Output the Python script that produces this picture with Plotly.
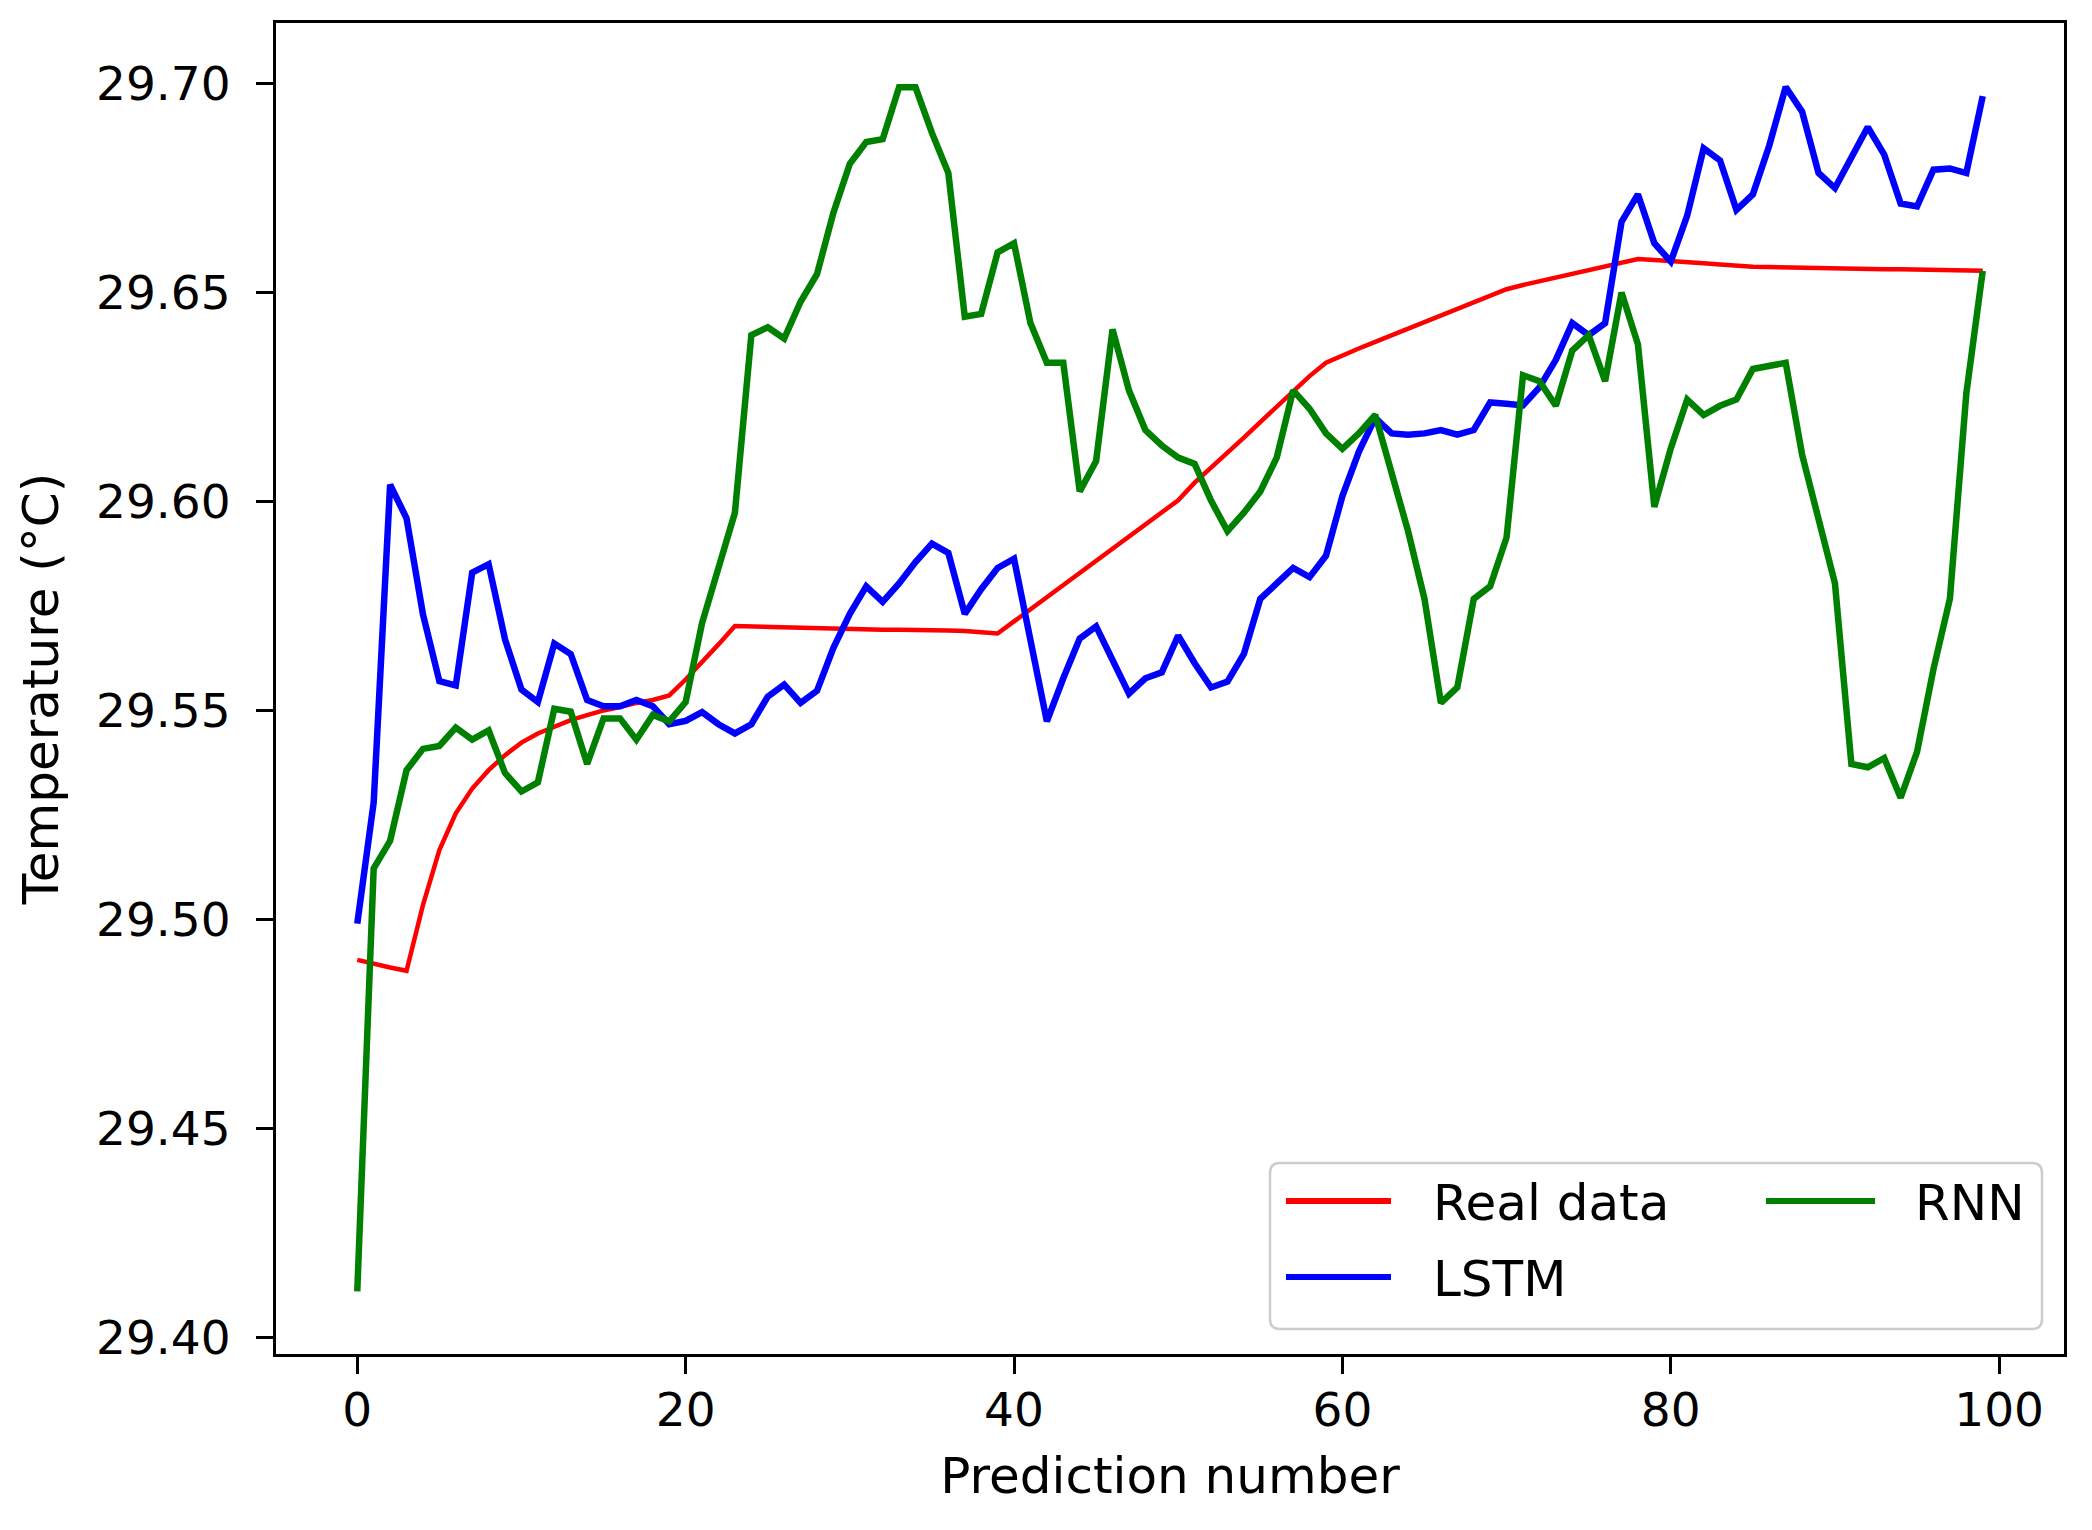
import plotly.graph_objects as go

# ---------------- data ----------------
prediction_number = list(range(100))

real_data = [
    29.4903, 29.4893, 29.4885, 29.4877, 29.5034, 29.5166, 29.5254, 29.5313, 29.5357, 29.5393,
    29.5423, 29.5445, 29.5462, 29.5477, 29.5489, 29.5500, 29.5508, 29.5518, 29.5525, 29.5536,
    29.5574, 29.5615, 29.5658, 29.5702, 29.5701, 29.5700, 29.5698, 29.5696, 29.5695, 29.5694,
    29.5693, 29.5693, 29.5693, 29.5693, 29.5693, 29.5692, 29.5691, 29.5690, 29.5688, 29.5684,
    29.5713, 29.5742, 29.5771, 29.5800, 29.5829, 29.5858, 29.5887, 29.5916, 29.5945, 29.5974,
    29.6003, 29.6045, 29.6080, 29.6117, 29.6153, 29.6190, 29.6227, 29.6263, 29.6300, 29.6332,
    29.6350, 29.6366, 29.6382, 29.6398, 29.6414, 29.6430, 29.6445, 29.6460, 29.6476, 29.6492,
    29.6508, 29.6518, 29.6527, 29.6536, 29.6545, 29.6554, 29.6563, 29.6572, 29.6580, 29.6578,
    29.6576, 29.6573, 29.6570, 29.6567, 29.6564, 29.6562, 29.6561, 29.6560, 29.6560, 29.6559,
    29.6558, 29.6558, 29.6557, 29.6556, 29.6556, 29.6555, 29.6554, 29.6554, 29.6553, 29.6552,
]

lstm = [
    29.4990, 29.5280, 29.6040, 29.5960, 29.5730, 29.5570, 29.5560, 29.5830, 29.5850, 29.5670,
    29.5550, 29.5520, 29.5660, 29.5635, 29.5525, 29.5510, 29.5510, 29.5525, 29.5510, 29.5467,
    29.5475, 29.5496, 29.5467, 29.5445, 29.5467, 29.5533, 29.5562, 29.5518, 29.5547, 29.5650,
    29.5731, 29.5797, 29.5760, 29.5804, 29.5855, 29.5899, 29.5877, 29.5731, 29.5790, 29.5841,
    29.5863, 29.5660, 29.5474, 29.5577, 29.5672, 29.5701, 29.5620, 29.5540, 29.5577, 29.5591,
    29.5679, 29.5613, 29.5555, 29.5569, 29.5635, 29.5767, 29.5804, 29.5841, 29.5819, 29.5870,
    29.6013, 29.6119, 29.6200, 29.6163, 29.6160, 29.6163, 29.6171, 29.6160, 29.6171, 29.6237,
    29.6234, 29.6230, 29.6273, 29.6339, 29.6427, 29.6398, 29.6427, 29.6669, 29.6735, 29.6618,
    29.6574, 29.6684, 29.6845, 29.6816, 29.6698, 29.6735, 29.6852, 29.6992, 29.6933, 29.6786,
    29.6750, 29.6823, 29.6896, 29.6830, 29.6713, 29.6706, 29.6794, 29.6797, 29.6786, 29.6970,
]

rnn = [
    29.4110, 29.5122, 29.5188, 29.5357, 29.5408, 29.5415, 29.5459, 29.5430, 29.5452, 29.5350,
    29.5306, 29.5328, 29.5504, 29.5497, 29.5372, 29.5481, 29.5481, 29.5430, 29.5489, 29.5474,
    29.5520, 29.5709, 29.5841, 29.5973, 29.6398, 29.6417, 29.6390, 29.6478, 29.6544, 29.6691,
    29.6808, 29.6860, 29.6867, 29.6991, 29.6991, 29.6882, 29.6786, 29.6442, 29.6449, 29.6596,
    29.6618, 29.6427, 29.6332, 29.6332, 29.6024, 29.6097, 29.6412, 29.6266, 29.6171, 29.6134,
    29.6105, 29.6090, 29.6002, 29.5929, 29.5973, 29.6024, 29.6105, 29.6266, 29.6222, 29.6163,
    29.6126, 29.6163, 29.6207, 29.6061, 29.5929, 29.5767, 29.5518, 29.5555, 29.5767, 29.5797,
    29.5914, 29.6302, 29.6288, 29.6229, 29.6361, 29.6398, 29.6288, 29.6500, 29.6376, 29.5987,
    29.6127, 29.6244, 29.6207, 29.6229, 29.6244, 29.6317, 29.6324, 29.6332, 29.6112, 29.5958,
    29.5804, 29.5372, 29.5364, 29.5386, 29.5291, 29.5401, 29.5599, 29.5767, 29.6258, 29.6552,
]

x_ticks = [0, 20, 40, 60, 80, 100]
y_ticks = [29.40, 29.45, 29.50, 29.55, 29.60, 29.65, 29.70]

series_names = ["Real data", "LSTM", "RNN"]
series_colors = ["#ff0000", "#0000ff", "#008000"]

# ---------------- layout constants ----------------
PAGE_OFF = 8                       # default body margin of the html page
W, H = 2092 - PAGE_OFF, 1530 - PAGE_OFF
# plot area in (figure) pixels
L, R, T, B = 276 - PAGE_OFF, 2064 - PAGE_OFF, 23 - PAGE_OFF, 1354 - PAGE_OFF
FONT = "DejaVu Sans"


def pxx(X):
    """page-pixel x -> paper"""
    return (X - PAGE_OFF - L) / (R - L)


def pxy(Y):
    """page-pixel y -> paper"""
    return (B - (Y - PAGE_OFF)) / (B - T)


fig = go.Figure()
widths = [4.5, 6.5, 6.5]
for name, ys, col, w in zip(series_names, [real_data, lstm, rnn], series_colors, widths):
    fig.add_trace(go.Scatter(x=prediction_number, y=ys, mode="lines", name=name,
                             line=dict(color=col, width=w), showlegend=False))

# ---------------- legend (matplotlib style, 2 columns) ----------------
bx0, bx1, by0, by1, rad = 1270, 2042, 1163, 1329, 10
rx, ry = rad / (R - L), rad / (B - T)
X0, X1, YT, YB = pxx(bx0), pxx(bx1), pxy(by0), pxy(by1)
path = (f"M {X0+rx},{YT} L {X1-rx},{YT} Q {X1},{YT} {X1},{YT-ry} "
        f"L {X1},{YB+ry} Q {X1},{YB} {X1-rx},{YB} L {X0+rx},{YB} "
        f"Q {X0},{YB} {X0},{YB+ry} L {X0},{YT-ry} Q {X0},{YT} {X0+rx},{YT} Z")
shapes = [dict(type="path", path=path, xref="paper", yref="paper",
               fillcolor="rgba(255,255,255,0.85)", line=dict(color="#cccccc", width=2.5),
               layer="above")]
annotations = []
# entry positions (page pixels): (line x0, line x1, text x, row y)
entries = [(1286, 1391, 1431, 1201), (1286, 1391, 1431, 1277), (1766, 1875, 1913, 1201)]
for (lx0, lx1, tx, ry_), name, col in zip(entries, series_names, series_colors):
    shapes.append(dict(type="line", xref="paper", yref="paper",
                       x0=pxx(lx0), x1=pxx(lx1), y0=pxy(ry_), y1=pxy(ry_),
                       line=dict(color=col, width=6), layer="above"))
    annotations.append(dict(text=name, xref="paper", yref="paper", x=pxx(tx), y=pxy(ry_ + 2),
                            xanchor="left", yanchor="middle", showarrow=False,
                            font=dict(family=FONT, size=50, color="black")))

fig.update_layout(
    width=W, height=H,
    margin=dict(l=L, r=W - R, t=T, b=H - B, autoexpand=False),
    paper_bgcolor="white", plot_bgcolor="white",
    font=dict(family=FONT, color="black"),
    shapes=shapes, annotations=annotations,
    showlegend=False,
)
fig.update_xaxes(
    range=[-4.95, 103.95], tickvals=x_ticks, ticktext=[str(v) for v in x_ticks],
    showgrid=False, zeroline=False, showline=True, mirror=True,
    linecolor="black", linewidth=3, ticks="outside", ticklen=17, tickwidth=2.5,
    tickcolor="black", tickfont=dict(family=FONT, size=47, color="black"),
    ticklabelstandoff=-4, automargin=False,
    title=dict(text="Prediction number", font=dict(family=FONT, size=50, color="black"),
               standoff=22),
)
fig.update_yaxes(
    range=[29.3960, 29.7145], tickvals=y_ticks, ticktext=[f"{v:.2f}" for v in y_ticks],
    showgrid=False, zeroline=False, showline=True, mirror=True,
    linecolor="black", linewidth=3, ticks="outside", ticklen=17, tickwidth=2.5,
    tickcolor="black", tickfont=dict(family=FONT, size=47, color="black"),
    ticklabelstandoff=16, automargin=False,
    title=dict(text="Temperature (°C)", font=dict(family=FONT, size=50, color="black"),
               standoff=22),
)

fig.write_html("out.html")
